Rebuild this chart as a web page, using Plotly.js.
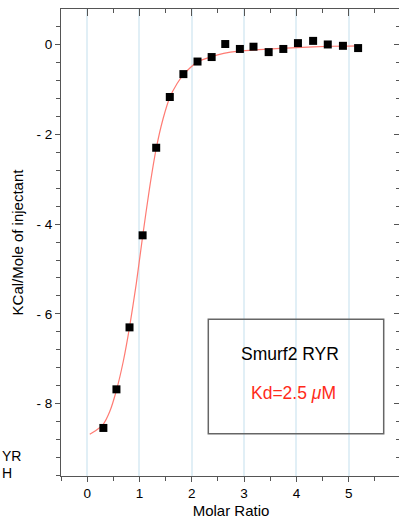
<!DOCTYPE html>
<html>
<head>
<meta charset="utf-8">
<script src="https://cdn.plot.ly/plotly-3.0.1.min.js"></script>
<style>
html,body{margin:0;padding:0;overflow:hidden;background:#fff;}
#chart{width:401px;height:519px;}
</style>
</head>
<body>
<div id="chart"></div>
<script>
// Data points (molar ratio vs heat per mole of injectant)
const molarRatio = [0.31, 0.56, 0.81, 1.06, 1.32, 1.58, 1.84, 2.11, 2.38, 2.64, 2.92, 3.18, 3.47, 3.75, 4.03, 4.32, 4.60, 4.89, 5.18];
const kcalPerMole = [-8.54, -7.68, -6.30, -4.25, -2.30, -1.17, -0.66, -0.38, -0.28, 0.01, -0.10, -0.05, -0.17, -0.10, 0.03, 0.08, 0.00, -0.03, -0.08];

// Fitted curve
const fitX = [0.05, 0.16, 0.30, 0.43, 0.56, 0.69, 0.81, 0.94, 1.06, 1.19, 1.32, 1.45, 1.58, 1.72, 1.85, 2.10, 2.36, 2.61, 2.90, 3.38, 4.01, 4.65, 5.20];
const fitY = [-8.68, -8.60, -8.47, -8.18, -7.70, -7.06, -6.30, -5.32, -4.28, -3.22, -2.32, -1.66, -1.18, -0.87, -0.66, -0.39, -0.28, -0.20, -0.15, -0.11, -0.07, -0.04, -0.03];

// Axis ticks
const xTickVals = [0, 1, 2, 3, 4, 5, 6];
const xTickText = ['0', '1', '2', '3', '4', '5', '6'];
const yTickVals = [0, -2, -4, -6, -8];
const yTickText = ['0', '- 2', '- 4', '- 6', '- 8'];

const xRange = [-0.5, 6];
const yRange = [-9.61, 0.79];

const traces = [
  {
    x: fitX, y: fitY, type: 'scatter', mode: 'lines',
    line: {color: '#ff7b73', width: 1.2, shape: 'spline', smoothing: 0.6},
    hoverinfo: 'skip', showlegend: false
  },
  {
    x: molarRatio, y: kcalPerMole, type: 'scatter', mode: 'markers',
    marker: {symbol: 'square', size: 8, color: '#000', line: {width: 0}},
    showlegend: false
  },
  {
    x: [], y: [], xaxis: 'x2', yaxis: 'y2', type: 'scatter', mode: 'markers',
    showlegend: false, hoverinfo: 'skip'
  }
];

const axisColor = '#555';
const fam = 'Liberation Sans, Arial, sans-serif';
const tickFont = {family: fam, size: 13.5, color: '#000'};

const layout = {
  width: 401, height: 519,
  margin: {l: 61, r: 0, t: 9, b: 43, pad: 0},
  paper_bgcolor: '#fff', plot_bgcolor: '#fff',
  font: {family: fam, color: '#000'},
  xaxis: {
    range: xRange, automargin: false,
    tickmode: 'array', tickvals: xTickVals, ticktext: xTickText,
    ticks: 'outside', ticklen: 5, tickcolor: axisColor, tickwidth: 1,
    minor: {dtick: 0.5, tick0: 0, ticks: 'outside', ticklen: 4, tickcolor: axisColor, showgrid: false},
    showline: true, linecolor: axisColor, linewidth: 1,
    showgrid: true, gridcolor: '#e1eff6', gridwidth: 2,
    zeroline: false, tickfont: tickFont,
    title: {text: 'Molar Ratio', font: {size: 15, family: fam}, standoff: 8}
  },
  yaxis: {
    range: yRange, automargin: false,
    tickmode: 'array', tickvals: yTickVals, ticktext: yTickText,
    ticks: 'outside', ticklen: 5, tickcolor: axisColor, tickwidth: 1,
    minor: {dtick: 0.4, tick0: 0, ticks: 'outside', ticklen: 4, tickcolor: axisColor, showgrid: false},
    showline: true, linecolor: axisColor, linewidth: 1,
    showgrid: false, zeroline: false, tickfont: tickFont,
    title: {text: 'KCal/Mole of injectant', font: {size: 15, family: fam}, standoff: 9}
  },
  xaxis2: {
    overlaying: 'x', side: 'top', range: xRange, automargin: false,
    tickmode: 'linear', tick0: 0, dtick: 1,
    ticks: 'inside', ticklen: 7, tickcolor: axisColor,
    minor: {dtick: 0.5, tick0: 0, ticks: 'inside', ticklen: 4, tickcolor: axisColor, showgrid: false},
    showticklabels: false, showline: true, linecolor: axisColor, linewidth: 1,
    showgrid: false, zeroline: false
  },
  yaxis2: {
    overlaying: 'y', side: 'right', range: yRange, automargin: false,
    tickmode: 'linear', tick0: 0, dtick: 2,
    ticks: 'inside', ticklen: 7, tickcolor: axisColor,
    minor: {dtick: 0.4, tick0: 0, ticks: 'inside', ticklen: 5, tickcolor: axisColor, showgrid: false},
    showticklabels: false, showline: true, linecolor: axisColor, linewidth: 1,
    showgrid: false, zeroline: false
  },
  shapes: [
    {type: 'rect', xref: 'paper', yref: 'paper',
     x0: (208.3 - 61) / 340, x1: (383.7 - 61) / 340,
     y0: (476 - 433.7) / 467, y1: (476 - 319.3) / 467,
     line: {color: '#666', width: 1.5}, fillcolor: 'rgba(0,0,0,0)'}
  ],
  annotations: [
    {xref: 'paper', yref: 'paper', x: (290 - 61) / 340, y: (476 - 354) / 467,
     text: 'Smurf2 RYR', showarrow: false, xanchor: 'center', yanchor: 'middle',
     font: {size: 17.5, color: '#000', family: fam}},
    {xref: 'paper', yref: 'paper', x: (293.7 - 61) / 340, y: (476 - 393) / 467,
     text: 'Kd=2.5 <i>μ</i>M', showarrow: false, xanchor: 'center', yanchor: 'middle',
     font: {size: 17.5, color: '#ff2a1a', family: fam}},
    {xref: 'paper', yref: 'paper', x: (0 - 61) / 340, y: (476 - 456) / 467,
     text: 'YR', showarrow: false, xanchor: 'left', yanchor: 'middle',
     font: {size: 14, color: '#000', family: fam}},
    {xref: 'paper', yref: 'paper', x: (0 - 61) / 340, y: (476 - 473) / 467,
     text: 'H', showarrow: false, xanchor: 'left', yanchor: 'middle',
     font: {size: 14, color: '#000', family: fam}}
  ]
};

Plotly.newPlot('chart', traces, layout, {displayModeBar: false, staticPlot: true});
</script>
</body>
</html>
